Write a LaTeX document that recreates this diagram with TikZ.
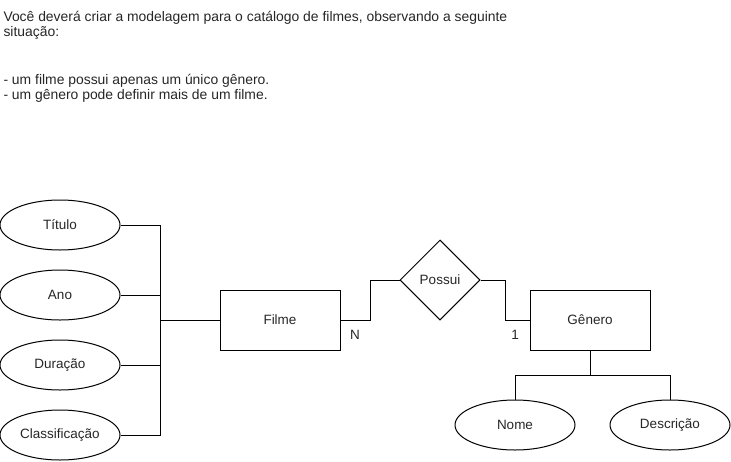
\documentclass[tikz,border=0pt]{standalone}
\usepackage{fontspec}
\setmainfont{Liberation Sans}
\usetikzlibrary{shapes.geometric}
\begin{document}
\begin{tikzpicture}[x=1pt,y=-1pt,line width=1pt,
  every node/.style={font=\fontsize{13.5pt}{16pt}\selectfont,text=black!85},
  attr/.style={draw=black,ellipse,minimum width=120pt,minimum height=50pt,inner sep=0pt},
  entity/.style={draw=black,rectangle,minimum width=120pt,minimum height=60pt,inner sep=0pt},
  rel/.style={draw=black,diamond,minimum width=80pt,minimum height=80pt,inner sep=0pt,aspect=1},
  txt/.style={anchor=base west,inner sep=0pt,font=\fontsize{13.9pt}{16pt}\selectfont},
  conn/.style={draw=black,line width=1pt}]
\useasboundingbox (0,0) rectangle (731,461);
% text
\node[txt] (t1) at (3,21) {Você deverá criar a modelagem para o catálogo de filmes, observando a seguinte};
\node[txt] (t2) at (3,36) {situação:};
\node[txt] (t3) at (3,84) {- um filme possui apenas um único gênero.};
\node[txt] (t4) at (3,99) {- um gênero pode definir mais de um filme.};
% attributes
\node[attr] (titulo) at (60,225) {Título};
\node[attr] (ano) at (60,295) {Ano};
\node[attr] (duracao) at (60,365) {Duração};
\node[attr] (classif) at (60,435) {Classificação};
% entities
\node[entity] (filme) at (280,320) {Filme};
\node[rel] (possui) at (440,280) {Possui};
\node[entity] (genero) at (590,320) {Gênero};
\node[attr] (nome) at (515,425) {Nome};
\node[attr] (desc) at (670,425) {Descrição};
% connectors
\coordinate (bus) at (160,320);
\draw[conn] (titulo.east) -| (bus);
\draw[conn] (ano.east) -| (bus);
\draw[conn] (duracao.east) -| (bus);
\draw[conn] (classif.east) -| (bus);
\draw[conn] (bus) -- (filme.west);
\draw[conn] (filme.east) -- (370,320) |- (possui.west);
\draw[conn] (possui.east) -- (505,280) |- (genero.west);
\coordinate (gb) at (590,375);
\draw[conn] (genero.south) -- (gb);
\draw[conn] (gb) -| (nome.north);
\draw[conn] (gb) -| (desc.north);
% labels
\node (n) at (355,335) {N};
\node (one) at (515,335) {1};
\end{tikzpicture}
\end{document}
